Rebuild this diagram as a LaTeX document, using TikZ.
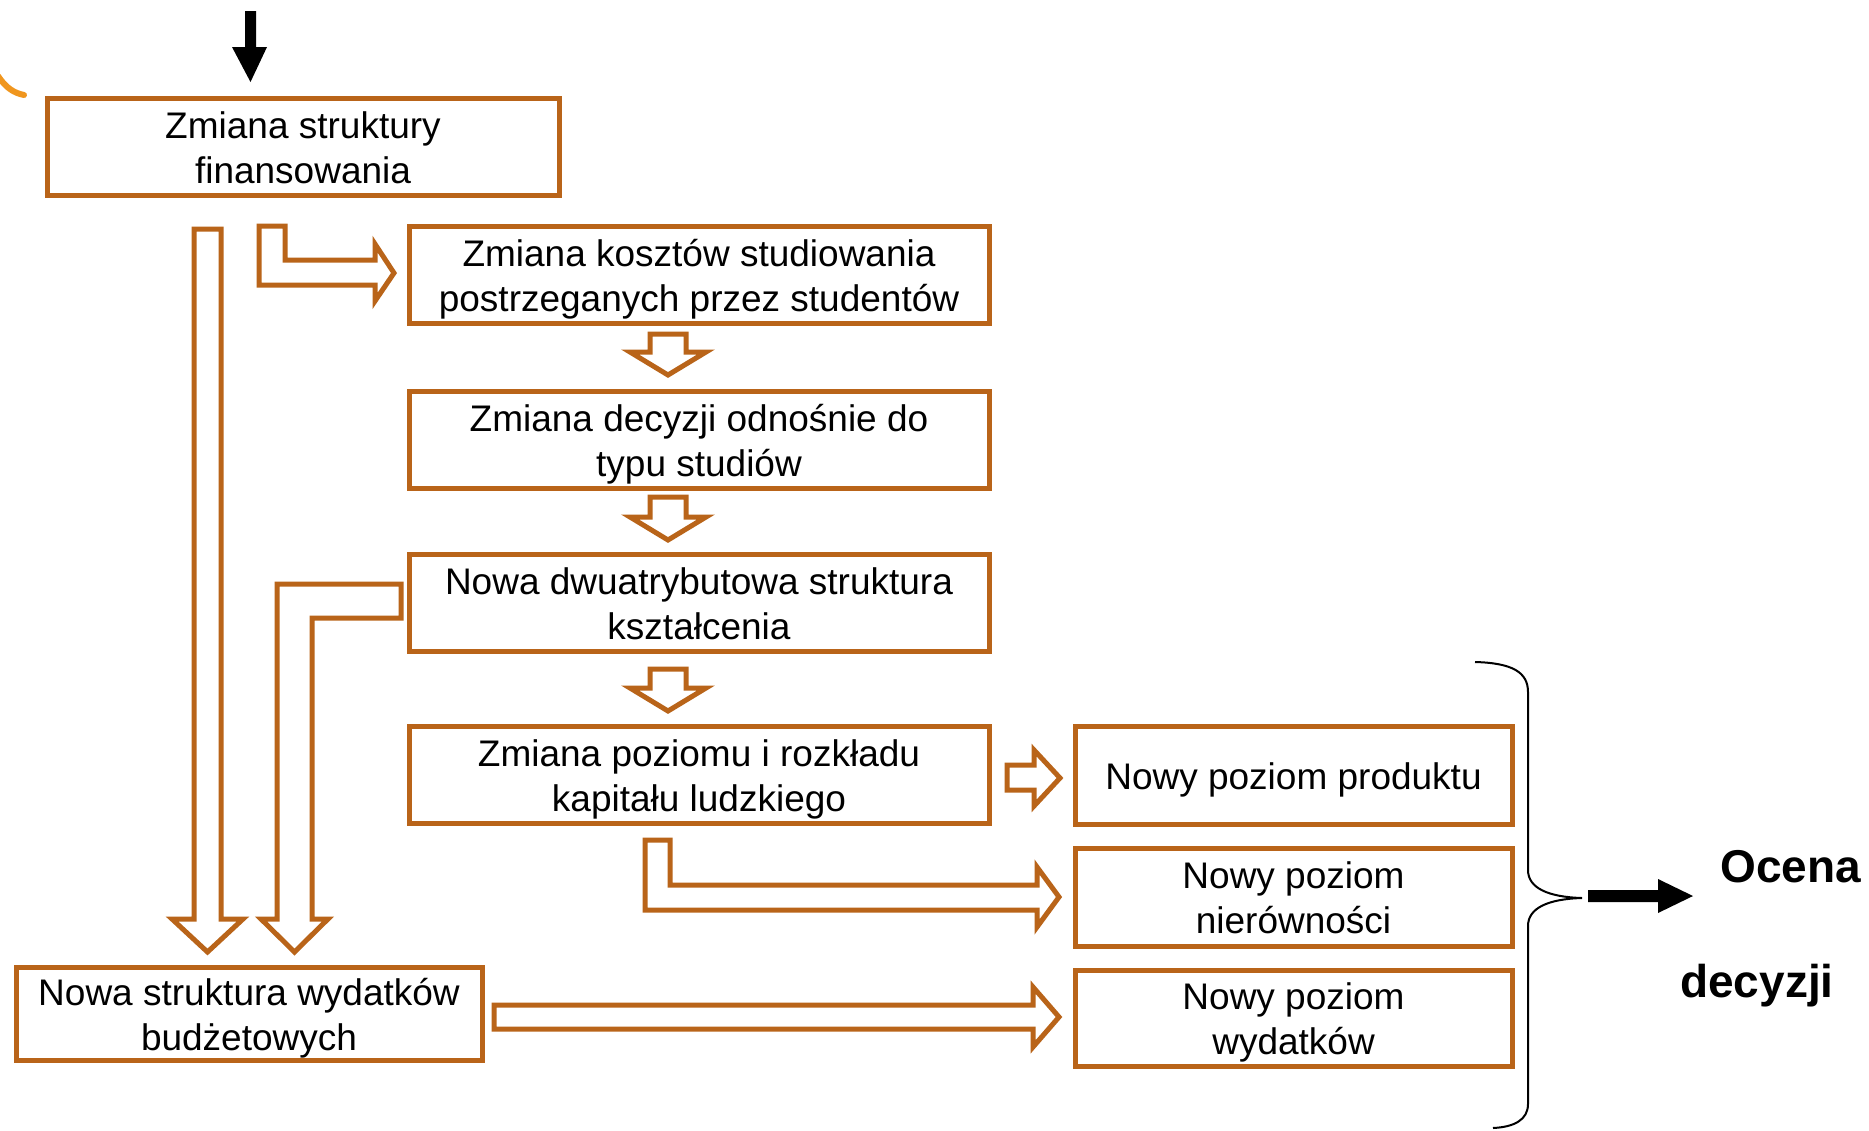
\documentclass[tikz,border=0pt]{standalone}
\usepackage{fontspec}
\setmainfont{Liberation Sans}
\definecolor{brn}{RGB}{185,100,25}
\definecolor{org}{RGB}{240,150,30}
\newcommand\tstr{\rule{0pt}{38pt}}
\newcommand\bstr{\rule[-10pt]{0pt}{10pt}}
\begin{document}
\begin{tikzpicture}[x=1pt,y=-1pt,
  box/.style={draw=brn, line width=5pt, fill=white, inner sep=0pt, align=center,
    font=\fontsize{37}{45}\selectfont},
  blk/.style={draw=brn, line width=5pt, fill=white, line join=miter},
  blackarrow/.style={fill=black},
  bigtext/.style={font=\bfseries\fontsize{46}{50}\selectfont, inner sep=0pt, anchor=base west}
]
\useasboundingbox (0,0) rectangle (1869,1130);
\fill[white] (0,0) rectangle (1869,1130);

% orange arc at left edge
\draw[org, line width=6pt, line cap=round] (-2,76) .. controls (6,88) and (14,93) .. (24,95);

% black arrow at top
\fill[blackarrow] (245,11) -- (256,11) -- (256,47) -- (267,47) -- (250.5,82) -- (232,47) -- (245,47) -- cycle;

% boxes
\node[box, minimum width=512pt, minimum height=97pt] (b1) at (303,146.5) {\tstr Zmiana struktury\\finansowania\bstr};
\node[box, minimum width=580pt, minimum height=97pt] (b2) at (699,274.5) {\tstr Zmiana kosztów studiowania\\postrzeganych przez studentów\bstr};
\node[box, minimum width=580pt, minimum height=97pt] (b3) at (699,439.5) {\tstr Zmiana decyzji odnośnie do\\typu studiów\bstr};
\node[box, minimum width=580pt, minimum height=97pt] (b4) at (699,602.5) {\tstr Nowa dwuatrybutowa struktura\\kształcenia\bstr};
\node[box, minimum width=580pt, minimum height=97pt] (b5) at (699,774.5) {\tstr Zmiana poziomu i rozkładu\\kapitału ludzkiego\bstr};
\node[box, minimum width=437pt, minimum height=98pt] (b6) at (1293.5,775.5) {\tstr Nowy poziom produktu\bstr};
\node[box, minimum width=437pt, minimum height=98pt] (b7) at (1293.5,897) {\tstr Nowy poziom\\nierówności\bstr};
\node[box, minimum width=437pt, minimum height=96pt] (b8) at (1293.5,1018) {\tstr Nowy poziom\\wydatków\bstr};
\node[box, minimum width=466pt, minimum height=89pt] (b9) at (249,1013.5) {\tstr Nowa struktura wydatków\\budżetowych\bstr};

% block arrows
% A: b1 -> b2
\draw[blk] (259,226) -- (285,226) -- (285,260) -- (375,260) -- (375,244) -- (394,273) -- (375,301) -- (375,285) -- (259,285) -- cycle;
% B: b1 -> b9 (long)
\draw[blk] (194,229) -- (221,229) -- (221,919) -- (243,919) -- (207.5,952) -- (172,919) -- (194,919) -- cycle;
% C: b4 -> b9
\draw[blk] (401,584) -- (401,618) -- (312,618) -- (312,919) -- (328,919) -- (294.5,952) -- (261,919) -- (277,919) -- (277,584) -- cycle;
% small down arrows
\draw[blk] (650,334) -- (686,334) -- (686,352) -- (706,352) -- (668,375) -- (630,352) -- (650,352) -- cycle;
\draw[blk] (650,497) -- (686,497) -- (686,517) -- (706,517) -- (668,540) -- (630,517) -- (650,517) -- cycle;
\draw[blk] (650,669) -- (686,669) -- (686,688) -- (706,688) -- (668,711) -- (630,688) -- (650,688) -- cycle;
% E: b5 -> b6
\draw[blk] (1007,765) -- (1034,765) -- (1034,750) -- (1060,778) -- (1034,806) -- (1034,790) -- (1007,790) -- cycle;
% F: b5 -> b7
\draw[blk] (645,840) -- (670,840) -- (670,885) -- (1037,885) -- (1037,867) -- (1059,897) -- (1037,927) -- (1037,910) -- (645,910) -- cycle;
% G: b9 -> b8
\draw[blk] (494,1005) -- (1033,1005) -- (1033,987) -- (1059,1017) -- (1033,1047) -- (1033,1029) -- (494,1029) -- cycle;

% brace
\coordinate (tip) at (1582,898);
\draw[line width=2pt] (1475,662) .. controls (1512,663) and (1528,672) .. (1528,692)
  -- (1528,870) .. controls (1528,888) and (1548,897) .. (tip)
  .. controls (1548,899) and (1528,908) .. (1528,926)
  -- (1528,1104) .. controls (1528,1120) and (1514,1127) .. (1493,1128);

% black right arrow
\fill[blackarrow] (1588,890) -- (1658,890) -- (1658,879) -- (1693,896) -- (1658,913) -- (1658,902) -- (1588,902) -- cycle;

\node[bigtext] (oc) at (1720,882) {Ocena};
\node[bigtext] (dec) at (1680,997) {decyzji};
\end{tikzpicture}
\end{document}
